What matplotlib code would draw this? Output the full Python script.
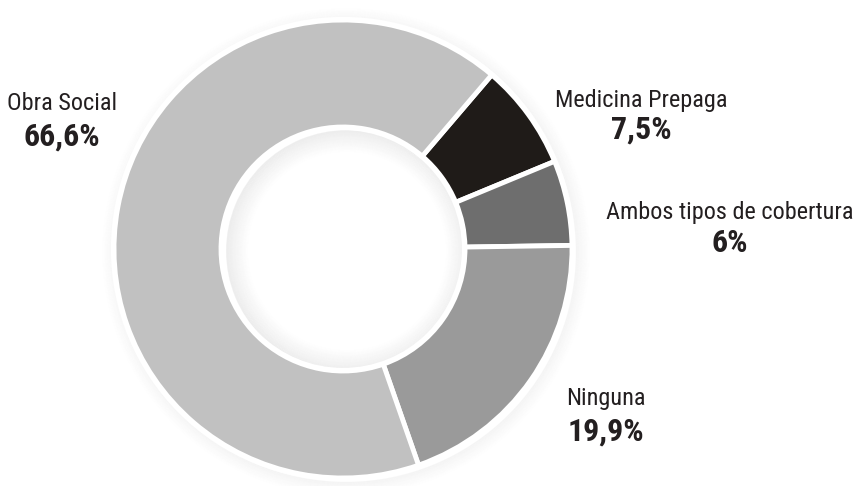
import matplotlib
matplotlib.use("Agg")
import matplotlib.pyplot as plt
from matplotlib.patches import Wedge, Circle
from matplotlib import font_manager as fm

categories = ["Medicina Prepaga", "Ambos tipos de cobertura", "Ninguna", "Obra Social"]
values = [7.5, 6.0, 19.9, 66.6]
value_labels = ["7,5%", "6%", "19,9%", "66,6%"]
colors = ["#1f1b18", "#6e6e6e", "#9a9a9a", "#c1c1c1"]

avail = {f.name for f in fm.fontManager.ttflist}
fam = [f for f in ["Roboto Condensed", "Liberation Sans Narrow", "DejaVu Sans Condensed", "DejaVu Sans"] if f in avail] or ["DejaVu Sans"]
plt.rcParams['font.family'] = fam

W, H = 856, 486
fig = plt.figure(figsize=(8.56, 4.86), dpi=100)
ax = fig.add_axes([0, 0, 1, 1])

cx, cy = 343, H - 249
R, r_in = 229, 122

# soft shadow outside and inside
for i in range(14):
    a = 0.035 * (1 - i / 14)
    ax.add_patch(Wedge((cx + 3, cy - 3), R + 2 + i, 0, 360, width=1.2, facecolor="#000000", alpha=a, lw=0, zorder=1))
for i in range(22):
    a = 0.06 * (1 - i / 22)
    ax.add_patch(Wedge((cx + 4, cy - 2), r_in - 1 - i, 0, 360, width=1.2, facecolor="#000000", alpha=a, lw=0, zorder=1))

ax.pie(values, colors=colors, startangle=49.5, counterclock=False,
       center=(cx, cy), radius=R, frame=True,
       wedgeprops=dict(width=R - r_in, edgecolor="white", linewidth=3.5))
ax.add_patch(Circle((cx, cy), R + 1, facecolor="none", edgecolor="white", lw=3, zorder=5))
ax.add_patch(Circle((cx, cy), r_in - 1, facecolor="none", edgecolor="white", lw=3, zorder=5))
ax.set_xlim(0, W)
ax.set_ylim(0, H)
ax.set_aspect('equal')
ax.axis('off')

label_pos = [(641, 101, 130), (730, 213, 243), (606, 398, 432), (62, 104, 137)]
for cat, vl, (x, y1, y2) in zip(categories, value_labels, label_pos):
    ax.text(x, H - y1, cat, ha='center', va='center', fontsize=17.5, color="#231f20")
    ax.text(x, H - y2, vl, ha='center', va='center', fontsize=23, fontweight='bold', color="#231f20")

fig.savefig("out.png", dpi=100)
